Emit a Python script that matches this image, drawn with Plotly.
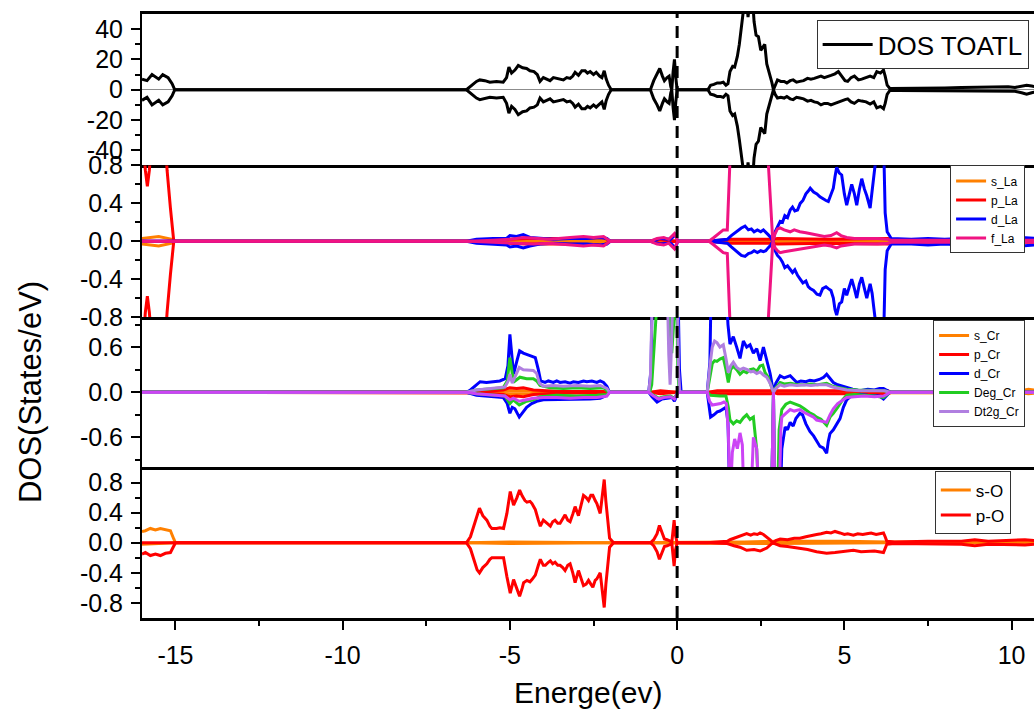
import plotly.graph_objects as go
from plotly.subplots import make_subplots

# ---------------- axis data ----------------
E_RANGE = [-16.0, 10.67]
X_TICKS = [-15, -10, -5, 0, 5, 10]
X_TICK_TEXT = ["-15", "-10", "-5", "0", "5", "10"]
X_MINOR = [-12.5, -7.5, -2.5, 2.5, 7.5]

Y1_RANGE = [-50, 50]
Y1_TICKS = [40, 20, 0, -20, -40]
Y1_TEXT = ["40", "20", "0", "-20", "-40"]
Y1_MINOR = [30, 10, -10, -30]

Y2_RANGE = [-0.8, 0.8]
Y2_TICKS = [0.8, 0.4, 0.0, -0.4, -0.8]
Y2_TEXT = ["0.8", "0.4", "0.0", "-0.4", "-0.8"]
Y2_MINOR = [0.6, 0.2, -0.2, -0.6]

Y3_RANGE = [-1.0, 1.0]
Y3_TICKS = [0.6, 0.0, -0.6]
Y3_TEXT = ["0.6", "0.0", "-0.6"]
Y3_MINOR = [0.9, 0.3, -0.3, -0.9]

Y4_RANGE = [-1.0, 1.0]
Y4_TICKS = [0.8, 0.4, 0.0, -0.4, -0.8]
Y4_TEXT = ["0.8", "0.4", "0.0", "-0.4", "-0.8"]
Y4_MINOR = [0.6, 0.2, -0.2, -0.6]

# ---------------- series data: (energy, DOS) ----------------
TOT_UP = [(-16.0, 7), (-15.85, 6), (-15.7, 10), (-15.5, 7), (-15.38, 10), (-15.22, 8), (-15.1, 4), (-15.02, 0),
          (-6.3, 0), (-6.15, 3), (-6.0, 5.5), (-5.9, 6.5), (-5.75, 6), (-5.6, 5), (-5.4, 5.5), (-5.2, 5), (-5.1, 8),
          (-5.03, 15), (-4.95, 11), (-4.85, 13), (-4.75, 16), (-4.62, 14.5), (-4.5, 14), (-4.4, 12.5), (-4.28, 12),
          (-4.18, 10), (-4.1, 5.5), (-4.0, 8), (-3.9, 7), (-3.8, 6), (-3.7, 8), (-3.6, 7.5), (-3.5, 6.5), (-3.4, 6.5),
          (-3.3, 8), (-3.2, 7.5), (-3.12, 9), (-3.05, 11.5), (-2.95, 9.5), (-2.85, 12.5), (-2.75, 12.5), (-2.68, 11),
          (-2.6, 12), (-2.5, 10), (-2.42, 11.5), (-2.32, 9), (-2.25, 8), (-2.18, 12.5), (-2.12, 7), (-2.05, 3), (-1.97, 0),
          (-0.8, 0), (-0.7, 6), (-0.6, 10), (-0.52, 14), (-0.44, 9), (-0.38, 6), (-0.3, 8), (-0.24, 9), (-0.19, 2),
          (-0.16, 0), (-0.12, 12), (-0.08, 20), (-0.04, 8), (0.0, 0),
          (0.92, 0), (1.0, 3), (1.1, 3.5), (1.2, 4.5), (1.3, 4.5), (1.38, 5), (1.46, 3), (1.52, 4), (1.58, 12),
          (1.66, 15.5), (1.72, 15), (1.8, 22), (1.86, 30), (1.92, 40), (1.98, 55), (2.05, 65), (2.12, 48), (2.18, 60),
          (2.25, 62), (2.3, 45), (2.36, 36), (2.43, 35), (2.5, 26), (2.56, 28), (2.62, 30), (2.68, 17), (2.76, 11),
          (2.83, 5), (2.88, 0), (2.93, 3), (3.0, 6.5), (3.1, 5.5), (3.2, 5.5), (3.28, 4.5), (3.38, 6), (3.47, 6.5),
          (3.57, 5), (3.67, 5.5), (3.78, 6), (3.9, 7.5), (4.0, 7), (4.1, 7.5), (4.2, 8.5), (4.3, 9), (4.4, 8), (4.5, 9),
          (4.6, 9.5), (4.72, 10.5), (4.82, 12), (4.92, 9), (5.02, 6), (5.1, 5.5), (5.2, 8), (5.3, 9), (5.42, 6.5),
          (5.52, 7), (5.65, 8), (5.77, 9), (5.88, 8), (5.97, 12), (6.08, 11), (6.17, 13), (6.22, 9), (6.28, 3),
          (6.36, 0.8), (6.6, 0.8), (7.0, 1.0), (7.5, 1.0), (8.0, 1.2), (8.5, 1.4), (9.0, 1.6), (9.5, 1.8), (9.9, 2.0),
          (10.1, 1.5), (10.3, 2.5), (10.45, 3), (10.6, 2.5), (10.7, 2)]

TOT_DN = [(-16.0, -7), (-15.85, -5), (-15.7, -10), (-15.5, -7), (-15.38, -10), (-15.22, -8), (-15.1, -4), (-15.02, 0),
          (-6.3, 0), (-6.15, -3), (-6.0, -5.5), (-5.9, -6.5), (-5.75, -6), (-5.6, -5), (-5.4, -5.5), (-5.2, -5),
          (-5.1, -9), (-5.03, -15.5), (-4.95, -11), (-4.85, -13), (-4.75, -16.5), (-4.62, -14.5), (-4.5, -14),
          (-4.4, -12), (-4.28, -11.5), (-4.18, -10), (-4.1, -5.5), (-4.0, -8), (-3.9, -7), (-3.8, -6), (-3.7, -8),
          (-3.6, -7.5), (-3.5, -6.5), (-3.4, -6.5), (-3.3, -8), (-3.2, -7.5), (-3.12, -9), (-3.05, -11.5),
          (-2.95, -9.5), (-2.85, -12.5), (-2.75, -12.5), (-2.68, -11), (-2.6, -12), (-2.5, -10), (-2.42, -11.5),
          (-2.32, -9), (-2.25, -8), (-2.18, -13), (-2.12, -7), (-2.05, -3), (-1.97, 0),
          (-0.8, 0), (-0.7, -6), (-0.6, -10), (-0.52, -14), (-0.44, -9), (-0.38, -6), (-0.3, -8), (-0.24, -9),
          (-0.19, -2), (-0.16, 0), (-0.12, -12), (-0.08, -20), (-0.04, -8), (0.0, 0),
          (0.92, 0), (1.0, -3), (1.1, -3.5), (1.2, -4.5), (1.3, -4.5), (1.38, -5), (1.46, -3), (1.52, -4), (1.58, -14),
          (1.66, -17), (1.72, -16), (1.8, -24), (1.86, -33), (1.92, -42), (1.98, -55), (2.05, -65), (2.12, -48),
          (2.18, -60), (2.25, -62), (2.3, -45), (2.36, -36), (2.43, -34), (2.5, -25), (2.56, -27), (2.62, -29),
          (2.68, -16), (2.76, -10), (2.83, -5), (2.88, 0), (2.93, -3), (3.0, -5.5), (3.1, -5), (3.2, -5.5),
          (3.28, -4.5), (3.38, -6), (3.47, -6.5), (3.57, -5), (3.67, -5.5), (3.78, -6), (3.9, -7.5), (4.0, -7),
          (4.1, -8), (4.2, -8.5), (4.3, -10), (4.4, -9), (4.5, -9), (4.6, -10), (4.72, -9), (4.82, -8), (4.92, -7),
          (5.02, -6.5), (5.1, -6), (5.2, -8), (5.3, -9), (5.42, -7), (5.52, -7.5), (5.65, -8), (5.77, -9.5),
          (5.88, -8), (5.97, -12), (6.08, -11), (6.17, -12.5), (6.22, -9), (6.28, -3), (6.36, -0.5), (6.6, -0.5),
          (7.0, -0.6), (7.5, -0.6), (8.0, -0.8), (8.5, -0.8), (9.0, -1.0), (9.5, -1.0), (9.9, -1.2), (10.1, -1.0),
          (10.3, -2.0), (10.45, -3), (10.6, -2.0), (10.7, -1.5)]

S_LA_UP = [(-16.0, 0.03), (-15.5, 0.05), (-15.1, 0.02), (-15.0, 0), (-6.2, 0), (-5.0, 0.01), (-2.1, 0.01), (-2.0, 0), (10.7, 0)]
S_LA_DN = [(-16.0, -0.03), (-15.5, -0.05), (-15.1, -0.02), (-15.0, 0), (-6.2, 0), (-5.0, -0.01), (-2.1, -0.01), (-2.0, 0), (10.7, 0)]

P_LA_UP = [(-16.0, 1.6), (-15.95, 1.0), (-15.9, 0.75), (-15.84, 0.58), (-15.78, 0.75), (-15.72, 1.1), (-15.6, 1.6),
           (-15.4, 1.6), (-15.3, 1.0), (-15.25, 0.75), (-15.15, 0.35), (-15.05, 0), (-6.2, 0), (-5.0, 0.02),
           (-4.5, 0.03), (-3.0, 0.03), (-2.2, 0.04), (-2.0, 0), (-0.8, 0), (-0.5, 0.02), (0.0, 0), (0.9, 0),
           (1.2, 0.01), (1.6, 0.02), (2.8, 0.02), (3.0, 0.03), (4.5, 0.02), (6.3, 0.03), (6.5, 0.01), (10.7, 0.01)]
P_LA_DN = [(-16.0, -1.6), (-15.95, -1.0), (-15.9, -0.75), (-15.84, -0.58), (-15.78, -0.75), (-15.72, -1.1),
           (-15.6, -1.6), (-15.4, -1.6), (-15.3, -1.0), (-15.25, -0.75), (-15.15, -0.35), (-15.05, 0), (-6.2, 0),
           (-5.0, -0.02), (-4.5, -0.03), (-3.0, -0.03), (-2.2, -0.04), (-2.0, 0), (-0.8, 0), (-0.5, -0.02), (0.0, 0),
           (0.9, 0), (1.2, -0.01), (1.6, -0.02), (2.8, -0.02), (3.0, -0.03), (4.5, -0.02), (6.3, -0.03),
           (6.5, -0.01), (10.7, -0.01)]

D_LA_UP = [(-16.0, 0), (-15.1, 0), (-6.3, 0), (-6.0, 0.02), (-5.5, 0.03), (-5.1, 0.03), (-5.0, 0.06), (-4.8, 0.05),
           (-4.6, 0.07), (-4.4, 0.04), (-4.1, 0.03), (-3.7, 0.02), (-3.2, 0.03), (-2.7, 0.03), (-2.3, 0.04),
           (-2.1, 0.03), (-2.0, 0), (-0.8, 0), (-0.5, 0.03), (-0.2, 0.02), (-0.05, 0.07), (0.02, 0), (0.92, 0),
           (1.2, 0.01), (1.5, 0.02), (1.62, 0.06), (1.72, 0.09), (1.82, 0.11), (1.92, 0.14), (2.03, 0.16),
           (2.13, 0.12), (2.22, 0.13), (2.3, 0.1), (2.4, 0.12), (2.5, 0.1), (2.58, 0.12), (2.65, 0.1), (2.72, 0.07),
           (2.8, 0.04), (2.86, 0.0), (2.93, 0.1), (3.0, 0.16), (3.08, 0.21), (3.15, 0.2), (3.22, 0.27), (3.3, 0.25),
           (3.38, 0.33), (3.45, 0.36), (3.52, 0.32), (3.6, 0.33), (3.68, 0.4), (3.76, 0.43), (3.85, 0.5),
           (3.92, 0.53), (3.98, 0.56), (4.08, 0.52), (4.18, 0.5), (4.27, 0.47), (4.35, 0.45), (4.45, 0.43),
           (4.52, 0.42), (4.6, 0.5), (4.67, 0.56), (4.72, 0.68), (4.77, 0.78), (4.85, 0.72), (4.92, 0.7), (5.0, 0.5),
           (5.07, 0.38), (5.15, 0.5), (5.22, 0.6), (5.3, 0.5), (5.37, 0.38), (5.45, 0.55), (5.52, 0.66), (5.6, 0.55),
           (5.67, 0.48), (5.77, 0.35), (5.83, 0.55), (5.88, 0.7), (5.95, 0.9), (6.05, 1.2), (6.17, 1.1), (6.22, 0.3),
           (6.28, 0.1), (6.4, 0.03), (7.0, 0.02), (7.5, 0.03), (8.0, 0.02), (8.5, 0.03), (9.0, 0.02), (9.5, 0.03),
           (10.0, 0.02), (10.3, 0.04), (10.7, 0.03)]
D_LA_DN = [(-16.0, 0), (-15.1, 0), (-6.3, 0), (-6.0, -0.02), (-5.5, -0.03), (-5.1, -0.04), (-5.0, -0.06),
           (-4.8, -0.05), (-4.6, -0.07), (-4.4, -0.05), (-4.1, -0.03), (-3.7, -0.02), (-3.2, -0.03), (-2.7, -0.03),
           (-2.3, -0.04), (-2.1, -0.03), (-2.0, 0), (-0.8, 0), (-0.5, -0.03), (-0.2, -0.02), (-0.05, -0.07),
           (0.02, 0), (0.92, 0), (1.2, -0.01), (1.5, -0.02), (1.62, -0.06), (1.72, -0.09), (1.82, -0.12),
           (1.92, -0.15), (2.03, -0.16), (2.13, -0.13), (2.22, -0.12), (2.3, -0.1), (2.4, -0.12), (2.5, -0.1),
           (2.58, -0.11), (2.65, -0.1), (2.72, -0.07), (2.8, -0.04), (2.86, 0.0), (2.93, -0.1), (3.0, -0.15),
           (3.08, -0.18), (3.15, -0.22), (3.22, -0.28), (3.3, -0.26), (3.38, -0.3), (3.45, -0.33), (3.52, -0.3),
           (3.6, -0.36), (3.68, -0.4), (3.76, -0.44), (3.85, -0.42), (3.92, -0.48), (3.98, -0.5), (4.08, -0.52),
           (4.18, -0.56), (4.27, -0.57), (4.35, -0.5), (4.45, -0.48), (4.52, -0.5), (4.6, -0.52), (4.67, -0.6),
           (4.72, -0.72), (4.77, -0.78), (4.85, -0.66), (4.92, -0.64), (5.0, -0.5), (5.07, -0.57), (5.15, -0.48),
           (5.22, -0.4), (5.3, -0.5), (5.37, -0.6), (5.45, -0.45), (5.52, -0.38), (5.6, -0.5), (5.67, -0.6),
           (5.77, -0.45), (5.83, -0.55), (5.88, -0.7), (5.95, -0.9), (6.05, -1.2), (6.17, -1.1), (6.22, -0.3),
           (6.28, -0.1), (6.4, -0.03), (7.0, -0.03), (7.5, -0.04), (8.0, -0.03), (8.5, -0.04), (9.0, -0.03),
           (9.5, -0.05), (10.0, -0.03), (10.3, -0.05), (10.7, -0.04)]

F_LA_UP = [(-16.0, 0), (-15.1, 0), (-6.2, 0), (-5.5, 0.01), (-5.0, 0.02), (-4.6, 0.04), (-4.3, 0.03), (-3.8, 0.02),
           (-3.2, 0.04), (-2.8, 0.05), (-2.5, 0.04), (-2.2, 0.05), (-2.0, 0), (-0.8, 0), (-0.6, 0.03), (-0.4, 0.04),
           (-0.25, 0.02), (-0.08, 0.08), (0.02, 0), (0.95, 0), (1.1, 0.04), (1.25, 0.08), (1.38, 0.12), (1.5, 0.12),
           (1.57, 0.8), (1.65, 1.5), (2.65, 1.5), (2.73, 0.8), (2.86, 0.0), (2.93, 0.08), (3.0, 0.13), (3.08, 0.14),
           (3.2, 0.12), (3.38, 0.1), (3.5, 0.12), (3.67, 0.1), (3.85, 0.09), (4.0, 0.08), (4.17, 0.07), (4.4, 0.05),
           (4.6, 0.06), (4.77, 0.09), (4.9, 0.06), (5.07, 0.04), (5.3, 0.03), (5.67, 0.03), (6.0, 0.03), (6.3, 0.02),
           (6.4, 0.01), (10.7, 0.01)]
F_LA_DN = [(-16.0, 0), (-15.1, 0), (-6.2, 0), (-5.5, -0.01), (-5.0, -0.02), (-4.6, -0.03), (-4.3, -0.03),
           (-3.8, -0.02), (-3.2, -0.04), (-2.8, -0.05), (-2.5, -0.04), (-2.2, -0.05), (-2.0, 0), (-0.8, 0),
           (-0.6, -0.03), (-0.4, -0.04), (-0.25, -0.02), (-0.08, -0.08), (0.02, 0), (0.95, 0), (1.1, -0.04),
           (1.25, -0.08), (1.38, -0.12), (1.5, -0.13), (1.57, -0.8), (1.65, -1.5), (2.65, -1.5), (2.73, -0.8),
           (2.86, 0.0), (2.93, -0.07), (3.0, -0.1), (3.08, -0.12), (3.2, -0.11), (3.38, -0.1), (3.5, -0.09),
           (3.67, -0.08), (3.85, -0.07), (4.0, -0.06), (4.17, -0.05), (4.4, -0.04), (4.6, -0.05), (4.77, -0.07),
           (4.9, -0.05), (5.07, -0.04), (5.3, -0.03), (5.67, -0.03), (6.0, -0.03), (6.3, -0.02), (6.4, -0.01),
           (10.7, -0.01)]

S_CR_UP = [(-16.0, 0), (-6.2, 0), (-5.0, 0.02), (-4.4, 0.02), (-4.0, 0), (10.0, 0), (10.3, 0.02), (10.5, 0.04), (10.7, 0.03)]
S_CR_DN = [(-16.0, 0), (-6.2, 0), (-5.0, -0.02), (-4.4, -0.02), (-4.0, 0), (10.0, 0), (10.3, -0.01), (10.5, -0.02), (10.7, -0.01)]

P_CR_UP = [(-16.0, 0), (-6.3, 0), (-5.8, 0.01), (-5.2, 0.03), (-5.0, 0.06), (-4.8, 0.05), (-4.6, 0.06), (-4.3, 0.03),
           (-3.5, 0.01), (-2.2, 0.01), (-2.0, 0), (-0.8, 0), (-0.5, 0.02), (0.0, 0), (0.92, 0), (1.2, 0.02),
           (2.8, 0.02), (2.88, 0), (3.0, 0.02), (6.3, 0.02), (6.4, 0), (10.7, 0)]
P_CR_DN = [(-16.0, 0), (-6.3, 0), (-5.8, -0.01), (-5.2, -0.03), (-5.0, -0.06), (-4.8, -0.05), (-4.6, -0.06),
           (-4.3, -0.03), (-3.5, -0.01), (-2.2, -0.01), (-2.0, 0), (-0.8, 0), (-0.5, -0.02), (0.0, 0), (0.92, 0),
           (1.2, -0.02), (2.8, -0.02), (2.88, 0), (3.0, -0.02), (6.3, -0.02), (6.4, 0), (10.7, 0)]

D_CR_UP = [(-16.0, 0), (-6.3, 0), (-6.18, 0.03), (-6.0, 0.1), (-5.89, 0.14), (-5.7, 0.13), (-5.49, 0.14), (-5.3, 0.15),
           (-5.14, 0.18), (-5.06, 0.35), (-5.0, 0.77), (-4.95, 0.5), (-4.89, 0.24), (-4.8, 0.4), (-4.71, 0.55),
           (-4.6, 0.52), (-4.49, 0.5), (-4.35, 0.48), (-4.24, 0.46), (-4.15, 0.3), (-4.08, 0.15), (-3.95, 0.13),
           (-3.85, 0.15), (-3.7, 0.13), (-3.6, 0.15), (-3.5, 0.13), (-3.35, 0.14), (-3.2, 0.12), (-3.1, 0.14),
           (-2.95, 0.13), (-2.8, 0.15), (-2.7, 0.14), (-2.55, 0.15), (-2.4, 0.13), (-2.3, 0.15), (-2.2, 0.13),
           (-2.1, 0.08), (-2.02, 0), (-0.85, 0), (-0.78, 0.3), (-0.74, 1.5), (0.02, 1.5), (0.07, 0.3), (0.12, 0),
           (0.9, 0), (0.98, 0.4), (1.02, 1.5), (1.45, 1.5), (1.52, 0.9), (1.58, 0.64), (1.68, 0.74), (1.78, 0.6),
           (1.88, 0.45), (1.98, 0.68), (2.08, 0.6), (2.18, 0.63), (2.28, 0.52), (2.38, 0.58), (2.48, 0.42),
           (2.58, 0.6), (2.68, 0.42), (2.78, 0.25), (2.88, 0.0), (2.95, 0.12), (3.08, 0.22), (3.2, 0.19),
           (3.38, 0.22), (3.48, 0.18), (3.58, 0.13), (3.7, 0.15), (3.85, 0.14), (3.97, 0.16), (4.1, 0.15),
           (4.25, 0.17), (4.38, 0.2), (4.47, 0.24), (4.57, 0.18), (4.67, 0.13), (4.8, 0.1), (4.95, 0.08),
           (5.07, 0.06), (5.25, 0.04), (5.47, 0.02), (5.7, 0.04), (5.9, 0.03), (6.05, 0.05), (6.17, 0.05),
           (6.3, 0.02), (6.38, 0), (10.7, 0)]
D_CR_DN = [(-16.0, 0), (-6.3, 0), (-6.0, -0.04), (-5.6, -0.06), (-5.2, -0.07), (-5.08, -0.15), (-5.0, -0.28),
           (-4.93, -0.2), (-4.85, -0.22), (-4.72, -0.33), (-4.6, -0.25), (-4.5, -0.2), (-4.35, -0.15), (-4.2, -0.12),
           (-4.0, -0.1), (-3.7, -0.1), (-3.4, -0.09), (-3.0, -0.1), (-2.6, -0.09), (-2.3, -0.08), (-2.1, -0.04),
           (-2.02, 0), (-0.85, 0), (-0.75, -0.06), (-0.6, -0.13), (-0.45, -0.09), (-0.3, -0.08), (-0.15, -0.07),
           (-0.08, -0.12), (0.02, 0), (0.9, 0), (0.97, -0.2), (1.0, -0.33), (1.1, -0.3), (1.2, -0.26), (1.28, -0.25),
           (1.38, -0.22), (1.46, -0.2), (1.52, -0.4), (1.58, -1.5), (2.82, -1.5), (2.88, 0), (2.92, -1.5),
           (3.08, -1.5), (3.13, -0.75), (3.18, -0.59), (3.23, -0.46), (3.3, -0.5), (3.38, -0.4), (3.47, -0.45),
           (3.55, -0.35), (3.67, -0.28), (3.75, -0.3), (3.85, -0.42), (3.97, -0.52), (4.08, -0.58), (4.18, -0.65),
           (4.27, -0.72), (4.37, -0.74), (4.47, -0.81), (4.52, -0.65), (4.57, -0.55), (4.67, -0.5), (4.77, -0.42),
           (4.87, -0.35), (4.97, -0.2), (5.07, -0.1), (5.2, -0.05), (5.35, -0.04), (5.5, -0.03), (5.7, -0.04),
           (5.9, -0.05), (6.05, -0.05), (6.17, -0.09), (6.28, -0.03), (6.36, 0), (10.7, 0)]

DEG_CR_UP = [(-16.0, 0), (-6.3, 0), (-6.0, 0.03), (-5.5, 0.05), (-5.2, 0.06), (-5.08, 0.15), (-5.0, 0.46),
             (-4.93, 0.25), (-4.85, 0.15), (-4.7, 0.2), (-4.5, 0.18), (-4.3, 0.18), (-4.2, 0.15), (-4.1, 0.09),
             (-3.8, 0.06), (-3.4, 0.05), (-3.0, 0.06), (-2.6, 0.05), (-2.2, 0.06), (-2.05, 0), (-0.82, 0),
             (-0.76, 0.1), (-0.56, 1.5), (-0.27, 1.5), (-0.22, 0.9), (-0.16, 0.52), (-0.12, 0.9), (-0.09, 1.5),
             (-0.02, 1.5), (0.02, 0.3), (0.06, 0), (0.9, 0), (0.98, 0.2), (1.05, 0.38), (1.12, 0.42), (1.19, 0.41),
             (1.28, 0.44), (1.38, 0.46), (1.46, 0.3), (1.53, 0.13), (1.6, 0.3), (1.68, 0.35), (1.78, 0.3),
             (1.88, 0.24), (1.98, 0.28), (2.08, 0.26), (2.18, 0.3), (2.28, 0.31), (2.38, 0.28), (2.48, 0.35),
             (2.56, 0.36), (2.63, 0.26), (2.72, 0.2), (2.8, 0.1), (2.88, 0), (2.95, 0.06), (3.08, 0.13), (3.2, 0.11),
             (3.4, 0.12), (3.58, 0.1), (3.8, 0.1), (4.0, 0.11), (4.2, 0.1), (4.47, 0.12), (4.65, 0.08), (4.85, 0.06),
             (5.07, 0.04), (5.4, 0.03), (5.8, 0.02), (6.2, 0.02), (6.36, 0), (10.7, 0)]
DEG_CR_DN = [(-16.0, 0), (-6.3, 0), (-6.0, -0.02), (-5.5, -0.04), (-5.15, -0.05), (-5.0, -0.15), (-4.9, -0.1),
             (-4.72, -0.17), (-4.5, -0.12), (-4.3, -0.1), (-4.1, -0.06), (-3.6, -0.04), (-3.0, -0.05), (-2.4, -0.04),
             (-2.1, -0.03), (-2.02, 0), (-0.85, 0), (-0.7, -0.04), (-0.55, -0.08), (-0.4, -0.06), (-0.2, -0.05),
             (-0.08, -0.08), (0.02, 0), (0.9, 0), (1.0, -0.04), (1.28, -0.05), (1.46, -0.05), (1.53, -0.2),
             (1.58, -0.37), (1.68, -0.42), (1.78, -0.38), (1.88, -0.4), (1.98, -0.34), (2.08, -0.3), (2.18, -0.36),
             (2.28, -0.33), (2.38, -0.77), (2.45, -1.5), (2.82, -1.5), (2.88, 0), (2.92, -1.5), (3.0, -1.5),
             (3.05, -0.5), (3.13, -0.23), (3.25, -0.16), (3.38, -0.13), (3.5, -0.15), (3.67, -0.18), (3.8, -0.22),
             (3.95, -0.27), (4.08, -0.3), (4.17, -0.33), (4.3, -0.36), (4.4, -0.4), (4.47, -0.44), (4.57, -0.33),
             (4.67, -0.28), (4.8, -0.2), (4.95, -0.1), (5.07, -0.04), (5.3, -0.03), (5.6, -0.04), (5.9, -0.05),
             (6.17, -0.07), (6.3, -0.02), (6.36, 0), (10.7, 0)]

DT2G_CR_UP = [(-16.0, 0), (-6.3, 0), (-6.0, 0.03), (-5.5, 0.05), (-5.15, 0.07), (-5.05, 0.15), (-5.0, 0.24),
              (-4.93, 0.12), (-4.85, 0.2), (-4.72, 0.33), (-4.6, 0.3), (-4.45, 0.29), (-4.3, 0.29), (-4.2, 0.25),
              (-4.12, 0.12), (-4.0, 0.08), (-3.7, 0.09), (-3.4, 0.08), (-3.0, 0.09), (-2.6, 0.08), (-2.3, 0.09),
              (-2.1, 0.05), (-2.02, 0), (-0.85, 0), (-0.8, 0.2), (-0.73, 1.5), (-0.3, 1.5), (-0.25, 0.5),
              (-0.21, 0.1), (-0.17, 0.6), (-0.12, 1.5), (0.0, 1.5), (0.04, 0.3), (0.08, 0), (0.9, 0), (0.98, 0.35),
              (1.05, 0.6), (1.12, 0.68), (1.19, 0.66), (1.28, 0.6), (1.38, 0.63), (1.46, 0.45), (1.53, 0.26),
              (1.6, 0.35), (1.68, 0.4), (1.78, 0.33), (1.88, 0.3), (1.98, 0.32), (2.1, 0.3), (2.2, 0.27),
              (2.28, 0.28), (2.38, 0.25), (2.48, 0.27), (2.58, 0.23), (2.68, 0.2), (2.78, 0.12), (2.88, 0),
              (2.95, 0.05), (3.08, 0.1), (3.2, 0.08), (3.38, 0.1), (3.58, 0.09), (3.8, 0.1), (4.0, 0.09), (4.2, 0.1),
              (4.47, 0.1), (4.65, 0.07), (4.85, 0.05), (5.07, 0.03), (5.5, 0.02), (6.2, 0.02), (6.36, 0), (10.7, 0)]
DT2G_CR_DN = [(-16.0, 0), (-6.3, 0), (-6.0, -0.02), (-5.5, -0.04), (-5.15, -0.05), (-5.0, -0.1), (-4.9, -0.08),
              (-4.72, -0.12), (-4.5, -0.1), (-4.3, -0.08), (-4.0, -0.07), (-3.6, -0.07), (-3.2, -0.08), (-2.8, -0.07),
              (-2.4, -0.07), (-2.1, -0.05), (-2.02, 0), (-0.85, 0), (-0.7, -0.05), (-0.55, -0.09), (-0.4, -0.07),
              (-0.2, -0.06), (-0.08, -0.09), (0.02, 0), (0.9, 0), (0.97, -0.12), (1.05, -0.17), (1.2, -0.16),
              (1.3, -0.15), (1.4, -0.13), (1.47, -0.15), (1.53, -0.5), (1.58, -1.5), (1.65, -0.8), (1.72, -0.62),
              (1.8, -0.75), (1.88, -0.54), (1.95, -0.7), (2.0, -1.5), (2.2, -1.5), (2.28, -0.6), (2.38, -0.75),
              (2.45, -1.5), (2.82, -1.5), (2.88, 0), (2.92, -1.5), (3.05, -1.5), (3.1, -0.5), (3.13, -0.33),
              (3.25, -0.28), (3.38, -0.23), (3.5, -0.25), (3.67, -0.23), (3.8, -0.27), (3.95, -0.3), (4.08, -0.33),
              (4.17, -0.37), (4.3, -0.38), (4.47, -0.4), (4.57, -0.3), (4.67, -0.22), (4.8, -0.15), (4.95, -0.1),
              (5.07, -0.07), (5.3, -0.06), (5.6, -0.05), (5.9, -0.06), (6.17, -0.05), (6.3, -0.02), (6.36, 0),
              (10.7, 0)]

S_O_UP = [(-16.0, 0.15), (-15.9, 0.16), (-15.75, 0.19), (-15.6, 0.17), (-15.45, 0.19), (-15.3, 0.17), (-15.15, 0.16),
          (-15.05, 0.05), (-15.0, 0), (-6.3, 0), (-5.0, 0.01), (-2.0, 0), (1.0, 0), (2.0, 0.01), (3.0, 0.02),
          (5.0, 0.02), (6.3, 0.01), (10.7, 0.01)]
S_O_DN = [(-16.0, -0.02), (-15.0, 0), (-6.3, 0), (-5.0, -0.01), (-2.0, 0), (3.0, -0.01), (6.3, 0), (10.7, 0)]

P_O_UP = [(-16.0, 0), (-15.0, 0), (-6.3, 0), (-6.18, 0.08), (-6.08, 0.22), (-5.98, 0.39), (-5.91, 0.46), (-5.81, 0.36),
          (-5.69, 0.3), (-5.6, 0.22), (-5.54, 0.19), (-5.4, 0.19), (-5.3, 0.2), (-5.19, 0.19), (-5.09, 0.39),
          (-4.99, 0.68), (-4.89, 0.5), (-4.79, 0.6), (-4.71, 0.7), (-4.63, 0.62), (-4.55, 0.56), (-4.49, 0.54),
          (-4.4, 0.55), (-4.34, 0.52), (-4.24, 0.44), (-4.15, 0.3), (-4.09, 0.22), (-4.0, 0.3), (-3.94, 0.28),
          (-3.85, 0.24), (-3.79, 0.22), (-3.72, 0.28), (-3.65, 0.3), (-3.57, 0.26), (-3.5, 0.26), (-3.42, 0.32),
          (-3.35, 0.37), (-3.27, 0.3), (-3.2, 0.28), (-3.12, 0.38), (-3.05, 0.48), (-2.95, 0.36), (-2.87, 0.5),
          (-2.8, 0.63), (-2.72, 0.6), (-2.65, 0.56), (-2.58, 0.63), (-2.52, 0.63), (-2.45, 0.56), (-2.4, 0.52),
          (-2.3, 0.39), (-2.24, 0.6), (-2.18, 0.84), (-2.13, 0.55), (-2.08, 0.3), (-2.02, 0.06), (-1.9, 0),
          (-0.8, 0), (-0.7, 0.04), (-0.6, 0.12), (-0.53, 0.23), (-0.45, 0.12), (-0.38, 0.05), (-0.3, 0.04),
          (-0.2, 0.02), (-0.16, 0), (-0.12, 0.15), (-0.09, 0.3), (-0.05, 0.1), (0.0, 0), (0.9, 0), (1.2, 0.01),
          (1.5, 0.02), (1.58, 0.04), (1.7, 0.06), (1.88, 0.08), (1.98, 0.1), (2.08, 0.12), (2.2, 0.1), (2.3, 0.12),
          (2.4, 0.11), (2.48, 0.13), (2.58, 0.11), (2.68, 0.08), (2.78, 0.04), (2.86, 0), (2.95, 0.03),
          (3.08, 0.05), (3.3, 0.04), (3.5, 0.06), (3.67, 0.06), (3.85, 0.08), (4.0, 0.09), (4.17, 0.11),
          (4.3, 0.12), (4.47, 0.14), (4.6, 0.13), (4.72, 0.15), (4.87, 0.13), (5.0, 0.11), (5.1, 0.12),
          (5.27, 0.1), (5.4, 0.12), (5.55, 0.11), (5.67, 0.12), (5.8, 0.13), (5.95, 0.11), (6.05, 0.12),
          (6.17, 0.13), (6.22, 0.08), (6.27, 0.02), (6.5, 0.01), (7.5, 0.02), (8.5, 0.02), (8.9, 0.04),
          (9.3, 0.02), (10.0, 0.03), (10.4, 0.04), (10.7, 0.03)]
P_O_DN = [(-16.0, -0.15), (-15.9, -0.13), (-15.75, -0.17), (-15.6, -0.15), (-15.45, -0.17), (-15.3, -0.14),
          (-15.15, -0.13), (-15.05, -0.05), (-15.0, 0), (-6.3, 0), (-6.18, -0.08), (-6.08, -0.22), (-5.98, -0.36),
          (-5.91, -0.4), (-5.81, -0.33), (-5.69, -0.28), (-5.6, -0.22), (-5.54, -0.2), (-5.4, -0.2), (-5.3, -0.2),
          (-5.19, -0.2), (-5.09, -0.45), (-4.99, -0.67), (-4.89, -0.49), (-4.79, -0.6), (-4.71, -0.71),
          (-4.63, -0.6), (-4.59, -0.53), (-4.49, -0.5), (-4.4, -0.52), (-4.34, -0.49), (-4.24, -0.43),
          (-4.15, -0.3), (-4.09, -0.22), (-4.0, -0.3), (-3.94, -0.3), (-3.85, -0.26), (-3.79, -0.24),
          (-3.72, -0.28), (-3.65, -0.26), (-3.57, -0.3), (-3.5, -0.3), (-3.42, -0.33), (-3.35, -0.37),
          (-3.27, -0.3), (-3.2, -0.28), (-3.12, -0.4), (-3.05, -0.53), (-2.95, -0.37), (-2.87, -0.48),
          (-2.8, -0.57), (-2.72, -0.55), (-2.65, -0.5), (-2.58, -0.55), (-2.52, -0.59), (-2.45, -0.5),
          (-2.4, -0.48), (-2.3, -0.4), (-2.24, -0.6), (-2.18, -0.86), (-2.13, -0.55), (-2.08, -0.35),
          (-2.02, -0.06), (-1.9, 0), (-0.8, 0), (-0.7, -0.04), (-0.6, -0.12), (-0.53, -0.22), (-0.45, -0.12),
          (-0.38, -0.05), (-0.3, -0.04), (-0.2, -0.02), (-0.16, 0), (-0.12, -0.15), (-0.09, -0.31), (-0.05, -0.1),
          (0.0, 0), (0.9, 0), (1.5, -0.01), (1.7, -0.04), (1.88, -0.06), (2.08, -0.1), (2.3, -0.09), (2.48, -0.11),
          (2.68, -0.07), (2.86, 0), (3.08, -0.04), (3.3, -0.05), (3.67, -0.07), (3.9, -0.09), (4.17, -0.12),
          (4.47, -0.14), (4.72, -0.13), (4.87, -0.12), (5.1, -0.11), (5.27, -0.1), (5.5, -0.12), (5.67, -0.12),
          (5.9, -0.11), (6.17, -0.13), (6.22, -0.08), (6.27, -0.02), (6.5, -0.01), (8.5, -0.02), (8.9, -0.04),
          (9.3, -0.02), (10.4, -0.03), (10.7, -0.02)]

# ---------------- figure ----------------
FONT = "Liberation Sans, Arial, sans-serif"
ORANGE, RED, BLUE, PINK = "#FF8000", "#FF0000", "#0000FF", "#F01482"
GREEN, LAVENDER, MAGENTA, BLACK = "#22CC22", "#B07FE0", "#CC44F5", "#000000"

fig = make_subplots(rows=4, cols=1, shared_xaxes=True, vertical_spacing=0)


def add(pairs, row, name, color, legend, show):
    xs = [p[0] for p in pairs]
    ys = [p[1] for p in pairs]
    fig.add_trace(go.Scatter(x=xs, y=ys, mode="lines", name=name,
                             line=dict(color=color, width=3),
                             legend=legend, legendgroup=name, showlegend=show),
                  row=row, col=1)


add(TOT_UP, 1, "DOS TOATL", BLACK, "legend", True)
add(TOT_DN, 1, "DOS TOATL", BLACK, "legend", False)

for up, dn, nm, col in [(S_LA_UP, S_LA_DN, "s_La", ORANGE), (P_LA_UP, P_LA_DN, "p_La", RED),
                        (D_LA_UP, D_LA_DN, "d_La", BLUE), (F_LA_UP, F_LA_DN, "f_La", PINK)]:
    add(up, 2, nm, col, "legend2", True)
    add(dn, 2, nm, col, "legend2", False)

for up, dn, nm, col, col2 in [(S_CR_UP, S_CR_DN, "s_Cr", ORANGE, ORANGE), (P_CR_UP, P_CR_DN, "p_Cr", RED, RED),
                              (D_CR_UP, D_CR_DN, "d_Cr", BLUE, BLUE), (DEG_CR_UP, DEG_CR_DN, "Deg_Cr", GREEN, GREEN),
                              (DT2G_CR_UP, DT2G_CR_DN, "Dt2g_Cr", LAVENDER, MAGENTA)]:
    add(up, 3, nm, col, "legend3", True)
    add(dn, 3, nm, col2, "legend3", False)

for up, dn, nm, col in [(S_O_UP, S_O_DN, "s-O", ORANGE), (P_O_UP, P_O_DN, "p-O", RED)]:
    add(up, 4, nm, col, "legend4", True)
    add(dn, 4, nm, col, "legend4", False)

domains = [[0.7492, 1.0], [0.4983, 0.7492], [0.2492, 0.4983], [0.0, 0.2492]]
yspecs = [(Y1_RANGE, Y1_TICKS, Y1_TEXT, Y1_MINOR), (Y2_RANGE, Y2_TICKS, Y2_TEXT, Y2_MINOR),
          (Y3_RANGE, Y3_TICKS, Y3_TEXT, Y3_MINOR), (Y4_RANGE, Y4_TICKS, Y4_TEXT, Y4_MINOR)]

for i in range(4):
    r = i + 1
    rng, tv, tt, mn = yspecs[i]
    fig.update_yaxes(row=r, col=1, domain=domains[i], range=rng, tickvals=tv, ticktext=tt,
                     ticks="outside", ticklen=9, tickwidth=2, tickcolor="black",
                     tickfont=dict(size=25, family=FONT, color="black"), ticklabelstandoff=3,
                     showline=True, linewidth=2, linecolor="black", mirror=False,
                     showgrid=False, zeroline=(i == 0), zerolinecolor="#8c8c8c", zerolinewidth=1,
                     minor=dict(tickvals=mn, ticks="outside", ticklen=5, tickwidth=2, tickcolor="black"))
    fig.update_xaxes(row=r, col=1, range=E_RANGE, showline=True, linewidth=3, linecolor="black",
                     mirror=(i == 0), showgrid=False, zeroline=False)

fig.update_xaxes(row=4, col=1, tickvals=X_TICKS, ticktext=X_TICK_TEXT, ticks="outside", ticklen=9,
                 tickwidth=2, tickcolor="black", tickfont=dict(size=25, family=FONT, color="black"),
                 ticklabelstandoff=4,
                 minor=dict(tickvals=X_MINOR, ticks="outside", ticklen=5, tickwidth=2, tickcolor="black"))
for r in (1, 2, 3):
    fig.update_xaxes(row=r, col=1, ticks="", showticklabels=False)

fig.add_shape(type="line", xref="x4", yref="paper", x0=0, x1=0, y0=0, y1=1,
              line=dict(color="black", width=3, dash="12px,8px"), layer="above")

fig.add_annotation(text="DOS(States/eV)", xref="paper", yref="paper", x=-0.1256, y=0.374,
                   xanchor="center", yanchor="middle", textangle=-90, showarrow=False,
                   font=dict(size=31, family=FONT, color="black"))
fig.add_annotation(text="Energe(ev)", xref="paper", yref="paper", x=0.5, y=-0.124,
                   xanchor="center", yanchor="middle", showarrow=False,
                   font=dict(size=30, family=FONT, color="black"))

leg_common = dict(bgcolor="white", bordercolor="#333333", borderwidth=1, xanchor="right", yanchor="top",
                  tracegroupgap=0)
fig.update_layout(
    width=1034, height=713,
    margin=dict(l=142, r=0, t=12, b=95),
    plot_bgcolor="white", paper_bgcolor="white",
    font=dict(family=FONT, color="black"),
    legend=dict(x=0.994, y=0.99, font=dict(size=26, family=FONT), itemwidth=50, **leg_common),
    legend2=dict(x=0.99, y=0.7492, font=dict(size=12, family=FONT), **leg_common),
    legend3=dict(x=0.99, y=0.4934, font=dict(size=12, family=FONT), **leg_common),
    legend4=dict(x=0.974, y=0.2426, font=dict(size=17, family=FONT), **leg_common),
)

fig.write_html("out.html", config={"displayModeBar": False},
               post_script="document.body.style.margin='0px';document.body.style.overflow='hidden';")
